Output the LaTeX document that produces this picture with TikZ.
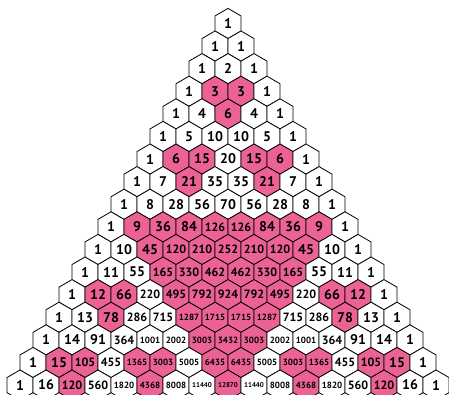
\documentclass[tikz,border=0pt]{standalone}
\usepackage{fontspec}
\setmainfont{PT Sans}
\definecolor{pinkhex}{RGB}{236,98,148}
\newcommand\pnum[1]{\ifnum#1<100 {\fontsize{14}{14}\selectfont #1}\else\ifnum#1<1000 {\fontsize{12}{12}\selectfont #1}\else\ifnum#1<10000 {\fontsize{9}{9}\selectfont\ifnum#1=1716 1715\else #1\fi}\else{\fontsize{7}{7}\selectfont #1}\fi\fi\fi}
\begin{document}
\begin{tikzpicture}[x=1pt,y=1pt,
  hexa/.style={draw=black,line width=0.8pt,line join=miter},
  lbl/.style={inner sep=0pt,font=\bfseries}]
\useasboundingbox (0,0) rectangle (449,395);
\clip (0,0) rectangle (449,395);
\foreach \row [count=\n from 0] in {
 {1},
 {1,1},
 {1,2,1},
 {1,3,3,1},
 {1,4,6,4,1},
 {1,5,10,10,5,1},
 {1,6,15,20,15,6,1},
 {1,7,21,35,35,21,7,1},
 {1,8,28,56,70,56,28,8,1},
 {1,9,36,84,126,126,84,36,9,1},
 {1,10,45,120,210,252,210,120,45,10,1},
 {1,11,55,165,330,462,462,330,165,55,11,1},
 {1,12,66,220,495,792,924,792,495,220,66,12,1},
 {1,13,78,286,715,1287,1716,1716,1287,715,286,78,13,1},
 {1,14,91,364,1001,2002,3003,3432,3003,2002,1001,364,91,14,1},
 {1,15,105,455,1365,3003,5005,6435,6435,5005,3003,1365,455,105,15,1},
 {1,16,120,560,1820,4368,8008,11440,12870,11440,8008,4368,1820,560,120,16,1}}{
  \foreach \v [count=\k from 0] in \row {
    \pgfmathsetmacro\cx{228+(\k-\n/2)*26}
    \pgfmathsetmacro\cy{395-23.5-22.6*\n}
    \pgfmathtruncatemacro\r{mod(\v,3)}
    \ifnum\r=0 \def\fc{pinkhex}\else\def\fc{white}\fi
    \filldraw[hexa,fill=\fc] (\cx,\cy) ++(0,15.1) -- ++(-13,-7.55) -- ++(0,-15.1) -- ++(13,-7.55) -- ++(13,7.55) -- ++(0,15.1) -- cycle;
    \node[lbl] (h-\n-\k) at (\cx,\cy) {\pnum{\v}};
  }
}
\end{tikzpicture}
\end{document}
